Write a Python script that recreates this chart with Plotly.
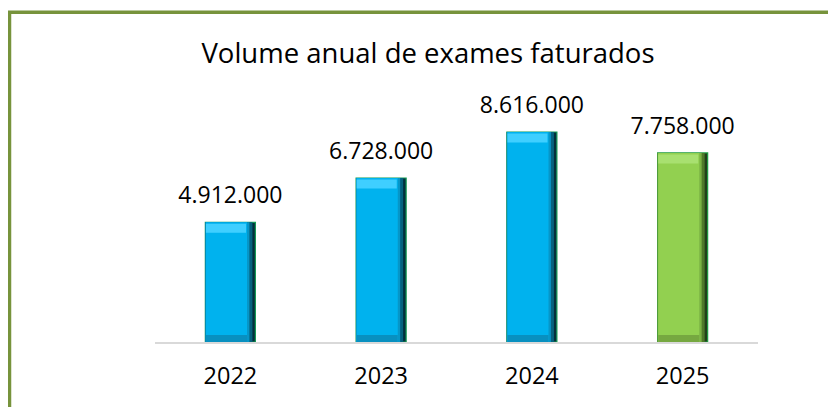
import plotly.graph_objects as go

years = ["2022", "2023", "2024", "2025"]
values = [4912000, 6728000, 8616000, 7758000]
labels = ["4.912.000", "6.728.000", "8.616.000", "7.758.000"]
title_text = "Volume anual de exames faturados"

main_cols = ["#00B2EE", "#00B2EE", "#00B2EE", "#92D050"]
shade1 = ["#0696c8", "#0696c8", "#0696c8", "#7bb444"]
shade2 = ["#06627f", "#06627f", "#06627f", "#4f7a2a"]
shade3 = ["#03303c", "#03303c", "#03303c", "#22401a"]
light_cols = ["#3fcfff", "#3fcfff", "#3fcfff", "#a8e070"]
low_cols = ["#0890c0", "#0890c0", "#0890c0", "#76a840"]
edge_cols = ["#159a55", "#159a55", "#159a55", "#1f9a40"]

# page has an 8px body margin, so figure coords = screen coords - 8
OFF = 8
W, H = 836 - OFF, 407 - OFF
L, R = 155 - OFF, W - (758 - OFF)
axis_y = 342 - OFF
B = H - axis_y
T = 90
ph = H - T - B
pw = W - L - R
ymax = 8616000 * ph / 210.0
upx = ymax / ph  # data units per pixel

bw = 0.332
xpx = 1.0 / 150.75  # category units per pixel
top_band = 9 * upx
bot_band = 7 * upx
label_pad = 9 * upx

fig = go.Figure()
common = dict(x=years, hoverinfo="skip")
# full bar, darkest right edge
fig.add_trace(go.Bar(y=values, width=bw, marker=dict(color=shade3, line=dict(color=edge_cols, width=1.2)), **common))
fig.add_trace(go.Bar(y=values, width=bw - 3 * xpx, offset=-bw / 2, marker=dict(color=shade2, line=dict(width=0)), **common))
fig.add_trace(go.Bar(y=values, width=bw - 6 * xpx, offset=-bw / 2, marker=dict(color=shade1, line=dict(width=0)), **common))
# body
fig.add_trace(go.Bar(y=values, width=bw - 9 * xpx, offset=-bw / 2 + 0.6 * xpx, marker=dict(color=main_cols, line=dict(width=0)), **common))
# top bevel
fig.add_trace(go.Bar(y=[top_band] * 4, base=[v - top_band - 1.5 * upx for v in values], width=bw - 10 * xpx,
                     offset=-bw / 2 + 0.6 * xpx, marker=dict(color=light_cols, line=dict(width=0)), **common))
# bottom bevel
fig.add_trace(go.Bar(y=[bot_band] * 4, width=bw - 9 * xpx, offset=-bw / 2 + 0.6 * xpx,
                     marker=dict(color=low_cols, line=dict(width=0)), **common))
# value labels
fig.add_trace(go.Bar(y=[label_pad] * 4, base=values, width=bw, marker=dict(color="rgba(0,0,0,0)", line=dict(width=0)),
                     text=labels, textposition="outside", cliponaxis=False, constraintext="none",
                     textfont=dict(family="Open Sans", size=23, color="#000000"), **common))

def px_x(p):
    return (p - L) / pw
def px_y(p):
    return (H - B - p) / ph

fig.update_layout(
    width=W, height=H, barmode="overlay", showlegend=False,
    margin=dict(l=L, r=R, t=T, b=B),
    paper_bgcolor="#ffffff", plot_bgcolor="#ffffff",
    title=dict(text=title_text, x=(428 - OFF) / W, xanchor="center", y=1 - (53 - OFF) / H, yanchor="middle",
               font=dict(family="Open Sans", size=27.5, color="#000000")),
    xaxis=dict(showline=True, linecolor="#d9d9d9", linewidth=2, ticks="", showgrid=False,
               tickfont=dict(family="Open Sans", size=23.5, color="#000000"), ticklabelstandoff=12),
    yaxis=dict(range=[0, ymax], visible=False, showgrid=False),
    shapes=[dict(type="rect", xref="paper", yref="paper",
                 x0=px_x(9.5 - OFF), x1=px_x(900), y0=px_y(12.3 - OFF), y1=px_y(500),
                 line=dict(color="#77933C", width=3.5), fillcolor="rgba(0,0,0,0)", layer="above")],
)

fig.write_html("out.html")
